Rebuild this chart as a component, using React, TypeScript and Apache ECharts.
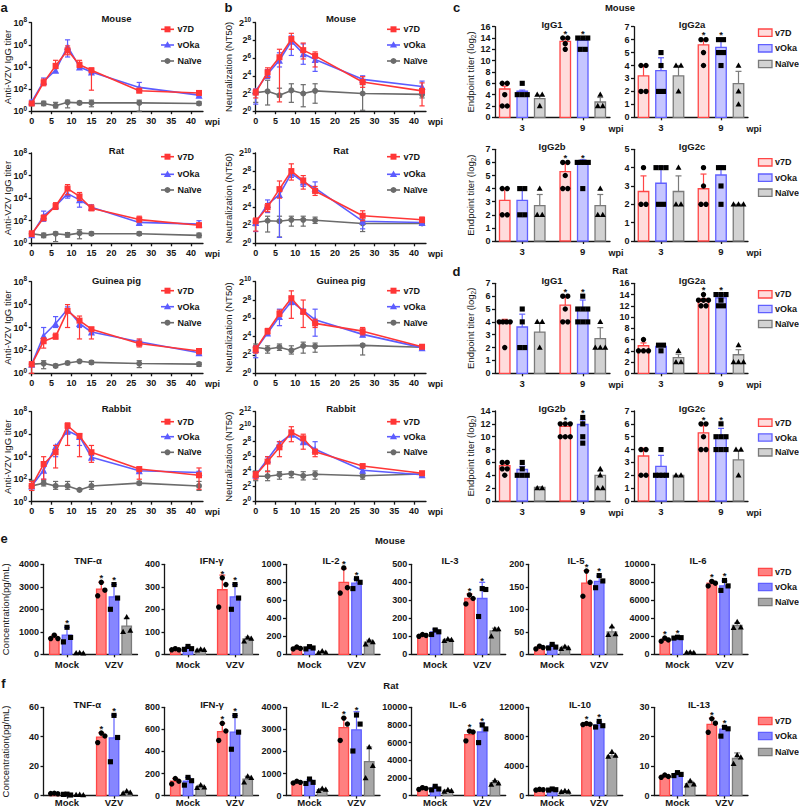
import React, { useEffect, useRef } from "react";
import * as echarts from "echarts";

const FONT = "'Liberation Sans', Arial, Helvetica, sans-serif";
const INK = "#151515";

// ---------------- categories / ticks ----------------
const weeks = [0, 3, 6, 9, 12, 15, 27, 42];
const weekTicks = [0, 5, 10, 15, 20, 25, 30, 35, 40];
const groupNames = ["v7D", "vOka", "Naïve"];
const wpiCats = ["3", "9"];
const stimCats = ["Mock", "VZV"];
const speciesNames = ["Mouse", "Rat", "Guinea pig", "Rabbit"];
const eTitles = ["TNF-α", "IFN-γ", "IL-2", "IL-3", "IL-5", "IL-6"];
const fTitles = ["TNF-α", "IFN-γ", "IL-2", "IL-6", "IL-10", "IL-13"];
const eYMax = [4000, 400, 1000, 500, 200, 10000];
const eYInt = [1000, 100, 200, 100, 50, 2000];
const fYMax = [60, 800, 4000, 10000, 12000, 30];
const fYInt = [20, 200, 1000, 2000, 4000, 10];

// ---------------- a: anti-VZV IgG titer, log10, [mean, low, high] per week ----------------
const aMouseV7D = [[0.7,0.55,0.85],[2.6,2.3,2.9],[4.1,3.85,4.6],[5.5,5.1,5.9],[4.2,3.95,4.6],[3.7,1.9,3.9],[1.85,1.7,2.05],[1.65,1.5,1.8]];
const aMouseVOka = [[0.85,0.7,1.0],[2.7,2.4,3.0],[3.7,3.5,3.9],[5.85,4.9,6.45],[4.0,3.9,4.1],[3.55,3.4,3.7],[2.15,1.8,2.6],[1.45,1.3,1.8]];
const aMouseNaive = [[0.7,0.5,0.9],[0.7,0.5,0.9],[0.5,0.3,0.8],[0.8,0.3,1.0],[0.75,0.6,0.9],[0.75,0.4,1.0],[0.75,0.0,1.0],[0.7,0.55,0.85]];
const aRatV7D = [[0.85,0.6,1.1],[2.25,2.0,2.5],[3.3,3.0,3.6],[4.85,4.3,5.2],[4.15,3.8,4.5],[3.1,2.9,3.4],[2.1,1.9,2.4],[1.6,1.4,1.8]];
const aRatVOka = [[0.75,0.55,0.9],[2.45,1.95,2.85],[3.3,3.2,3.45],[4.4,4.0,4.8],[3.85,3.2,4.3],[3.2,3.0,3.4],[1.85,1.7,2.0],[1.7,1.5,2.0]];
const aRatNaive = [[0.85,0.7,1.0],[0.7,0.5,0.9],[0.85,0.15,1.0],[0.75,0.55,0.95],[0.9,0.4,1.2],[0.85,0.7,1.0],[0.85,0.7,1.0],[0.7,0.5,0.9]];
const aGuineaV7D = [[0.78,0.0,1.0],[2.8,2.2,3.1],[3.2,3.0,3.5],[5.45,4.0,6.0],[4.6,3.0,5.0],[3.85,3.0,4.0],[2.6,2.3,3.0],[1.95,1.7,2.1]];
const aGuineaVOka = [[0.78,0.6,0.95],[3.3,2.9,4.0],[4.35,4.0,4.95],[5.6,5.3,5.8],[4.35,4.0,4.6],[3.6,3.4,3.8],[2.75,2.6,2.9],[1.8,1.6,1.9]];
const aGuineaNaive = [[0.8,0.6,0.95],[0.85,0.4,1.1],[0.65,0.5,0.8],[0.9,0.75,1.05],[1.05,0.95,1.15],[0.95,0.8,1.1],[0.85,0.5,1.1],[0.8,0.6,0.95]];
const aRabbitV7D = [[1.4,1.0,1.8],[3.35,2.0,4.0],[4.4,3.0,5.0],[6.75,5.0,7.0],[5.85,4.0,6.05],[4.4,3.5,5.0],[2.9,2.0,3.05],[2.35,1.1,3.0]];
const aRabbitVOka = [[1.4,1.2,1.6],[2.8,2.0,3.5],[4.9,4.0,5.0],[6.3,6.0,6.5],[5.8,5.0,6.0],[3.95,3.8,4.1],[2.75,2.6,2.9],[2.6,2.4,2.7]];
const aRabbitNaive = [[1.4,1.0,1.9],[1.65,1.4,1.9],[1.4,1.1,1.8],[1.4,1.1,1.8],[1.05,1.0,1.1],[1.4,1.1,1.8],[1.65,1.5,1.8],[1.4,1.0,1.8]];

// ---------------- b: neutralization NT50, log2, [mean, low, high] per week ----------------
const bMouseV7D = [[2.1,1.5,2.5],[4.4,3.8,4.9],[6.1,1.05,7.0],[8.15,7.0,8.8],[6.9,5.9,7.7],[6.25,5.0,6.7],[3.3,2.7,3.9],[2.3,0.6,3.2]];
const bMouseVOka = [[2.3,0.8,2.5],[4.2,3.7,4.7],[5.75,5.0,6.6],[7.9,6.3,8.5],[6.5,5.3,7.6],[5.85,4.5,6.4],[3.6,3.3,4.0],[2.8,2.0,3.4]];
const bMouseNaive = [[2.1,1.0,2.4],[2.25,0.7,3.5],[1.8,1.6,2.6],[2.35,1.0,3.1],[2.0,0.5,3.0],[2.3,0.9,3.1],[2.0,0.1,3.0],[1.9,1.5,2.4]];
const bRatV7D = [[2.45,1.35,2.8],[4.0,3.5,4.4],[6.0,5.0,6.9],[8.0,7.0,8.8],[6.95,6.0,7.5],[5.8,5.3,6.3],[3.05,2.5,3.6],[2.6,2.3,2.9]];
const bRatVOka = [[2.3,1.3,2.6],[4.3,3.4,4.8],[5.4,0.65,6.2],[7.75,7.3,8.1],[6.8,6.3,7.2],[6.1,5.6,6.8],[2.45,1.6,2.9],[2.3,2.0,2.5]];
const bRatNaive = [[2.3,2.0,2.6],[2.5,1.25,3.0],[2.45,0.7,3.0],[2.6,1.9,3.0],[2.6,1.9,3.0],[2.55,2.2,2.9],[2.2,1.3,2.6],[2.2,2.0,2.4]];
const bGuineaV7D = [[2.6,2.2,3.0],[4.6,4.3,4.9],[6.5,6.2,6.9],[8.2,6.0,9.0],[6.7,5.0,8.0],[5.45,5.0,5.9],[4.6,4.2,5.0],[2.9,2.7,3.1]];
const bGuineaVOka = [[2.6,1.7,3.0],[4.4,4.2,4.7],[6.2,5.2,7.0],[7.85,7.5,8.3],[6.85,6.7,7.0],[5.85,4.05,7.0],[4.25,4.0,4.5],[2.8,2.6,3.0]];
const bGuineaNaive = [[2.85,2.3,3.2],[2.65,2.2,3.0],[2.85,2.5,3.2],[2.5,2.1,3.0],[3.0,2.2,3.4],[2.95,2.3,3.3],[3.05,2.0,3.2],[2.85,2.6,3.0]];
const bRabbitV7D = [[3.55,3.0,4.0],[5.35,4.0,6.0],[7.25,6.0,8.0],[9.25,8.0,10.0],[8.45,7.0,9.0],[6.65,6.0,7.0],[4.75,4.5,5.0],[3.8,3.5,4.0]];
const bRabbitVOka = [[3.55,3.2,3.9],[5.65,5.2,6.0],[7.8,7.3,8.0],[9.0,8.7,9.3],[8.0,7.8,8.3],[7.0,6.5,8.0],[4.2,4.0,4.4],[3.6,3.4,3.8]];
const bRabbitNaive = [[3.4,2.8,4.1],[3.4,2.8,4.1],[3.6,3.0,4.0],[3.75,3.2,4.0],[3.45,2.9,4.0],[3.65,3.0,4.1],[3.45,3.0,3.7],[3.7,3.5,3.9]];

// ---------------- c: mouse IgG subclasses (rows: wk3, wk9; cols: v7D, vOka, Naïve) ----------------
const cIgG1Mean = [[5.0,4.6,3.3],[13.4,13.6,2.7]];
const cIgG1SD = [[0.5,0.2,0.6],[0.5,0.3,0.8]];
const cIgG1Pts = [[[6,6,4,2,2],[6,4,4,4],[4,4,2]],[[14,14,13,12],[14,14,14,12,12],[4,2,2]]];
const cIgG1Star = [[0,0,0],[1,1,0]];
const cIgG2aMean = [[3.2,3.6,3.2],[5.6,5.4,2.6]];
const cIgG2aSD = [[0.8,1.0,0.8],[0.4,0.5,0.95]];
const cIgG2aPts = [[[4,4,2,2],[5,4,2,2],[4,4,2]],[[6,6,5,4],[6,6,5,5,4],[4,2,1]]];
const cIgG2aStar = [[0,0,0],[1,1,0]];
const cIgG2bMean = [[3.1,3.1,2.7],[5.3,6.0,2.7]];
const cIgG2bSD = [[0.9,0.9,0.85],[0.6,0.2,0.85]];
const cIgG2bPts = [[[4,4,2,2],[4,4,2,2],[4,2,2]],[[6,6,5,4,4],[6,6,6,6,4],[4,2,2]]];
const cIgG2bStar = [[0,0,0],[1,1,0]];
const cIgG2cMean = [[2.7,3.15,2.7],[2.85,3.6,2.0]];
const cIgG2cSD = [[0.85,0.9,0.85],[0.8,0.5,0]];
const cIgG2cPts = [[[4,2,2],[4,4,4,2,2],[4,2,2]],[[4,3,2,2],[4,4,3,2],[2,2,2]]];
const cIgG2cStar = [[0,0,0],[0,0,0]];

// ---------------- d: rat IgG subclasses ----------------
const dIgG1Mean = [[4.0,3.6,3.2],[5.3,5.1,2.7]];
const dIgG1SD = [[0.2,1.0,0.75],[0.6,0.6,0.85]];
const dIgG1Pts = [[[4,4,4,4,2],[5,4,2,2],[4,4,2]],[[6,6,5,4,4],[6,5,5,5,4,4,4],[4,2,2,2]]];
const dIgG1Star = [[0,0,0],[1,1,0]];
const dIgG2aMean = [[4.9,4.8,2.8],[12.8,13.4,3.3]];
const dIgG2aSD = [[0.5,0.2,0.6],[0.5,0.6,0.9]];
const dIgG2aPts = [[[6,4,4,4],[5,5,4],[4,2,2]],[[14,13,13,13,12,12],[14,14,14,13,12,12],[5,2,2,2]]];
const dIgG2aStar = [[0,0,0],[1,1,0]];
const dIgG2bMean = [[5.5,4.9,2.1],[11.6,11.9,4.0]];
const dIgG2bSD = [[0.4,0.5,0.1],[0.4,0.7,0.6]];
const dIgG2bPts = [[[6,6,5,5,4],[6,5,4,4,4],[2,2]],[[12,12,12,10,10,10],[13,12,10,9],[5,4,2,2]]];
const dIgG2bStar = [[0,0,0],[1,1,0]];
const dIgG2cMean = [[3.5,2.7,2.0],[5.3,5.1,3.2]];
const dIgG2cSD = [[0.6,0.85,0],[0.55,0.55,0.75]];
const dIgG2cPts = [[[4,4,2,2],[4,2,2,2,2],[2,2]],[[6,6,5,4,4],[6,5,5,5,4,4,4],[4,4,2]]];
const dIgG2cStar = [[0,0,0],[1,1,0]];

// ---------------- e: mouse cytokines, pg/mL (rows: Mock, VZV) ----------------
const eTNFMean = [[750,850,50],[2900,2550,1250]];
const eTNFSD = [[100,350,20],[300,550,350]];
const eTNFPts = [[[850,700,700],[1200,750,550],[60,40,50]],[[3200,2850,2600],[3100,2500,2000],[1650,1050,1000]]];
const eTNFStar = [[0,1,0],[1,1,0]];
const eIFNMean = [[22,28,20],[287,255,68]];
const eIFNSD = [[4,6,3],[65,55,9]];
const eIFNPts = [[[25,20,20],[35,25,22],[22,20,18]],[[340,310,210],[310,250,200],[75,70,58]]];
const eIFNStar = [[0,0,0],[1,1,0]];
const eIL2Mean = [[70,72,25],[800,790,135]];
const eIL2SD = [[10,12,8],[150,45,22]];
const eIL2Pts = [[[80,65,60],[85,70,60],[35,20,15]],[[960,740,680],[840,800,730],[155,135,110]]];
const eIL2Star = [[0,0,0],[1,1,0]];
const eIL3Mean = [[105,125,80],[310,310,130]];
const eIL3SD = [[5,15,5],[25,90,15]];
const eIL3Pts = [[[110,105,100],[135,125,110],[85,80,75]],[[330,310,280],[365,360,210],[140,140,100]]];
const eIL3Star = [[0,0,0],[1,1,0]];
const eIL5Mean = [[15,18,15],[158,162,50]];
const eIL5SD = [[3,4,3],[28,12,10]];
const eIL5Pts = [[[18,15,12],[22,16,14],[17,14,12]],[[185,160,129],[175,163,148],[62,45,43]]];
const eIL5Star = [[0,0,0],[1,1,0]];
const eIL6Mean = [[1600,1850,200],[7900,7600,3200]];
const eIL6SD = [[150,60,60],[250,550,300]];
const eIL6Pts = [[[1800,1600,1450],[1900,1850,1800],[220,150,200]],[[8100,7900,7600],[8200,7600,7100],[3600,3000,2950]]];
const eIL6Star = [[1,1,0],[1,1,0]];

// ---------------- f: rat cytokines, pg/mL ----------------
const fTNFMean = [[1.5,1.0,0.5],[39.7,39.2,2.0]];
const fTNFSD = [[0.3,0.4,0.3],[3.0,15.5,1.0]];
const fTNFPts = [[[1.6,1.2,1.4],[1.0,0.4,0.8],[0.6,0.3,0.5]],[[42.5,40.5,36],[54.5,39.5,23],[3,2,1.5]]];
const fTNFStar = [[0,0,0],[1,1,0]];
const fIFNMean = [[130,130,80],[580,575,150]];
const fIFNSD = [[25,35,15],[75,150,25]];
const fIFNPts = [[[155,130,105],[165,135,95],[95,75,70]],[[655,585,500],[725,575,420],[175,160,120]]];
const fIFNStar = [[0,0,0],[1,1,0]];
const fIL2Mean = [[610,620,270],[3080,2980,1540]];
const fIL2SD = [[40,100,50],[430,820,660]];
const fIL2Pts = [[[650,600,570],[750,600,550],[320,270,220]],[[3510,3240,2500],[3650,3240,2020],[2200,1350,790]]];
const fIL2Star = [[0,0,0],[1,1,0]];
const fIL6Mean = [[800,850,550],[6900,7200,1450]];
const fIL6SD = [[100,200,100],[450,1000,250]];
const fIL6Pts = [[[900,800,700],[1050,750,650],[650,550,450]],[[7300,7200,6200],[8000,7550,6000],[1700,1400,1250]]];
const fIL6Star = [[0,0,0],[1,1,0]];
const fIL10Mean = [[800,800,580],[9700,9600,5400]];
const fIL10SD = [[50,80,70],[150,400,400]];
const fIL10Pts = [[[850,800,750],[900,800,750],[650,550,500]],[[9800,9700,9650],[10080,9500,9320],[5950,5450,5300]]];
const fIL10Star = [[0,0,0],[1,1,0]];
const fIL13Mean = [[6.6,7.2,4.1],[24.2,22.6,12.6]];
const fIL13SD = [[0.4,0.5,0.8],[2.1,1.0,1.9]];
const fIL13Pts = [[[7.0,6.5,6.2],[7.8,7.2,6.8],[5.0,3.8,3.5]],[[26.1,24.6,21.5],[23.2,22.7,20.2],[13.8,13.0,10.8]]];
const fIL13Star = [[0,0,0],[1,1,0]];

// ---------------- styles ----------------
const LINE_COLORS = ["#FF3636", "#5C5CFF", "#6B6B6B"];
const LINE_SYMBOLS = ["rect", "triangle", "circle"];
const LINE_SYMSIZE = [6, 7, 6];
const BAR_STROKE = ["#FF4646", "#6060FF", "#7A7A7A"];
const BAR_FILL_LIGHT = ["#FFDCDC", "#C6C6FF", "#D2D2D2"];
const BAR_FILL_SOLID = ["#FF8080", "#8686FF", "#A7A7A7"];

function buildOption() {
  const grid: any[] = [];
  const xAxis: any[] = [];
  const yAxis: any[] = [];
  const series: any[] = [];
  const elements: any[] = [];

  const axisLine = { show: true, onZero: false, lineStyle: { color: INK, width: 1.3 } };
  const tickCfg = (len: number) => ({ show: true, inside: false, length: len, lineStyle: { color: INK, width: 1.3 } });
  const lbl = (size: number) => ({ fontFamily: FONT, fontSize: size, fontWeight: "bold", color: INK });

  const text = (t: string, x: number, y: number, size: number, weight = "bold", align = "center") => ({
    type: "text", x, y, silent: true, z: 20,
    style: { text: t, fontFamily: FONT, fontSize: size, fontWeight: weight, fill: INK, textAlign: align, textVerticalAlign: "middle", align, verticalAlign: "middle" },
  });

  const addGrid = (left: number, top: number, width: number, height: number) => {
    grid.push({ left, top, width, height, containLabel: false, outerBoundsMode: "none", show: false });
    return grid.length - 1;
  };

  const lineErrRender = (color: string) => (params: any, api: any) => {
    const x = api.value(0);
    const lo = api.coord([x, api.value(1)]);
    const hi = api.coord([x, api.value(2)]);
    const st = { stroke: color, lineWidth: 1.2 };
    const cap = 2.6;
    return {
      type: "group",
      children: [
        { type: "line", shape: { x1: lo[0], y1: lo[1], x2: hi[0], y2: hi[1] }, style: st },
        { type: "line", shape: { x1: lo[0] - cap, y1: lo[1], x2: lo[0] + cap, y2: lo[1] }, style: st },
        { type: "line", shape: { x1: hi[0] - cap, y1: hi[1], x2: hi[0] + cap, y2: hi[1] }, style: st },
      ],
    };
  };

  const lineMarker = (k: number, cx: number, cy: number) => {
    const fill = LINE_COLORS[k];
    if (k === 0) return { type: "rect", silent: true, z: 21, shape: { x: cx - 3, y: cy - 3, width: 6, height: 6 }, style: { fill } };
    if (k === 1) return { type: "polygon", silent: true, z: 21, shape: { points: [[cx, cy - 3.8], [cx + 3.6, cy + 2.6], [cx - 3.6, cy + 2.6]] }, style: { fill } };
    return { type: "circle", silent: true, z: 21, shape: { cx, cy, r: 3 }, style: { fill } };
  };

  const addLinePanel = (cfg: any) => {
    const gi = addGrid(cfg.left, cfg.top, cfg.width, cfg.height);
    xAxis.push({
      gridIndex: gi, type: "value", min: 0, max: 43, interval: 5,
      axisLine, axisTick: { ...tickCfg(3), customValues: weekTicks },
      axisLabel: { ...lbl(9), margin: 5, customValues: weekTicks, formatter: (v: number) => String(v) },
      splitLine: { show: false },
    });
    yAxis.push({
      gridIndex: gi, type: "value", min: 0, max: cfg.yMax, interval: 2,
      axisLine, axisTick: tickCfg(3), splitLine: { show: false },
      axisLabel: {
        margin: 4.5,
        formatter: (v: number) => `{b|${cfg.base}}{s|${v}}`,
        rich: {
          b: { ...lbl(9), lineHeight: 13 },
          s: { ...lbl(6.5), verticalAlign: "top", lineHeight: 6 },
        },
      },
      name: cfg.yName, nameLocation: "middle", nameGap: cfg.nameGap, nameRotate: 90, nameMoveOverlap: false,
      nameTextStyle: { fontFamily: FONT, fontSize: 9.5, color: INK },
    });
    cfg.data.forEach((arr: number[][], k: number) => {
      const z = 5 - k;
      series.push({
        type: "custom", xAxisIndex: gi, yAxisIndex: gi, z, silent: true,
        renderItem: lineErrRender(LINE_COLORS[k]),
        data: arr.map((d, i) => [weeks[i], d[1], d[2]]),
      });
      series.push({
        type: "line", name: groupNames[k], xAxisIndex: gi, yAxisIndex: gi, z, silent: true, clip: false,
        symbol: LINE_SYMBOLS[k], symbolSize: LINE_SYMSIZE[k], showSymbol: true, showAllSymbol: true,
        lineStyle: { color: LINE_COLORS[k], width: 1.6 }, itemStyle: { color: LINE_COLORS[k] },
        data: arr.map((d, i) => [weeks[i], d[0]]),
      });
    });
    elements.push(text(cfg.title, cfg.titleX, cfg.titleY, 9.5));
    elements.push(text("wpi", cfg.left + cfg.width + 9.5, cfg.top + cfg.height + 10.7, 9));
    cfg.legY.forEach((y: number, k: number) => {
      elements.push({ type: "line", silent: true, z: 20, shape: { x1: cfg.legX, y1: y, x2: cfg.legX + 13, y2: y }, style: { stroke: LINE_COLORS[k], lineWidth: 1.6 } });
      elements.push(lineMarker(k, cfg.legX + 6.5, y));
      elements.push(text(groupNames[k], cfg.legX + 16.5, y, 9, "bold", "left"));
    });
  };

  const barRectRender = (spacing: number, bw: number, fills: string[]) => (params: any, api: any) => {
    const c = api.value(0), m = api.value(1), k = api.value(2);
    const b = api.coord([c, 0]);
    const t = api.coord([c, m]);
    const cx = b[0] + (k - 1) * spacing;
    return {
      type: "rect",
      shape: { x: cx - bw / 2, y: t[1], width: bw, height: b[1] - t[1] },
      style: { fill: fills[k], stroke: BAR_STROKE[k], lineWidth: 1.3 },
    };
  };

  const barErrRender = (spacing: number, symSize: number) => (params: any, api: any) => {
    const c = api.value(0), m = api.value(1), top = api.value(2), k = api.value(3), star = api.value(4), ptMax = api.value(5);
    const base = api.coord([c, m]);
    const tp = api.coord([c, top]);
    const pp = api.coord([c, ptMax]);
    const x = base[0] + (k - 1) * spacing;
    const st = { stroke: BAR_STROKE[k], lineWidth: 1.2 };
    const children: any[] = [];
    if (top > m) {
      children.push({ type: "line", shape: { x1: x, y1: base[1], x2: x, y2: tp[1] }, style: st });
      children.push({ type: "line", shape: { x1: x - 3, y1: tp[1], x2: x + 3, y2: tp[1] }, style: st });
    }
    if (star) {
      const yTop = Math.min(tp[1], pp[1] - symSize / 2);
      children.push({
        type: "text", x, y: yTop - 2,
        style: { text: "*", fontFamily: FONT, fontSize: 9.5, fontWeight: "bold", fill: INK, textAlign: "center", textVerticalAlign: "middle", align: "center", verticalAlign: "middle" },
      });
    }
    return { type: "group", children };
  };

  const pointRender = (spacing: number, size: number) => (params: any, api: any) => {
    const c = api.value(0), v = api.value(1), k = api.value(2), dx = api.value(3);
    const p = api.coord([c, v]);
    const x = p[0] + (k - 1) * spacing + dx;
    const y = p[1];
    const r = size / 2;
    const style = { fill: "#000" };
    if (k === 0) return { type: "circle", shape: { cx: x, cy: y, r }, style };
    if (k === 1) return { type: "rect", shape: { x: x - r * 0.95, y: y - r * 0.95, width: r * 1.9, height: r * 1.9 }, style };
    return { type: "polygon", shape: { points: [[x, y - r * 1.15], [x + r * 1.1, y + r * 0.8], [x - r * 1.1, y + r * 0.8]] }, style };
  };

  const addBarPanel = (cfg: any) => {
    const gi = addGrid(cfg.left, cfg.top, cfg.width, cfg.height);
    xAxis.push({
      gridIndex: gi, type: "value", min: cfg.xMin, max: cfg.xMax,
      axisLine, axisTick: { ...tickCfg(3), customValues: [0, 1] },
      axisLabel: { ...lbl(9.5), margin: cfg.xMargin ?? 5, customValues: [0, 1], formatter: (v: number) => cfg.cats[Math.round(v)] },
      splitLine: { show: false },
    });
    yAxis.push({
      gridIndex: gi, type: "value", min: 0, max: cfg.yMax, interval: cfg.yInt,
      axisLine, axisTick: tickCfg(3), splitLine: { show: false },
      axisLabel: { ...lbl(9), margin: 4.5, formatter: (v: number) => String(v) },
      name: cfg.yName || "", nameLocation: "middle", nameGap: cfg.nameGap || 0, nameRotate: 90, nameMoveOverlap: false,
      nameTextStyle: {
        fontFamily: FONT, fontSize: 9.5, color: INK, lineHeight: 12,
        rich: { sub: { fontFamily: FONT, fontSize: 6.5, color: INK, verticalAlign: "bottom", lineHeight: 5 } },
      },
    });
    const fills = cfg.solid ? BAR_FILL_SOLID : BAR_FILL_LIGHT;
    const rects: any[] = [], errs: any[] = [], dots: any[] = [];
    for (let c = 0; c < 2; c++) {
      for (let k = 0; k < 3; k++) {
        const m = cfg.means[c][k];
        const pts: number[] = cfg.pts[c][k];
        rects.push([c, m, k]);
        errs.push([c, m, m + cfg.sd[c][k], k, cfg.stars[c][k], Math.max(m, ...pts)]);
        if (cfg.solid) {
          const pattern = [0, 3.6, -3.6];
          pts.forEach((v, i) => dots.push([c, v, k, pattern[i % 3]]));
        } else {
          const seen: Record<string, number> = {};
          const counts: Record<string, number> = {};
          pts.forEach((v) => { counts[v] = (counts[v] || 0) + 1; });
          pts.forEach((v) => {
            const n = counts[v];
            const i = seen[v] || 0;
            seen[v] = i + 1;
            const step = n > 1 ? Math.min(5, 11 / (n - 1)) : 0;
            dots.push([c, v, k, (i - (n - 1) / 2) * step]);
          });
        }
      }
    }
    series.push({ type: "custom", xAxisIndex: gi, yAxisIndex: gi, z: 2, silent: true, renderItem: barRectRender(cfg.spacing, cfg.bw, fills), data: rects });
    series.push({ type: "custom", xAxisIndex: gi, yAxisIndex: gi, z: 3, silent: true, renderItem: barErrRender(cfg.spacing, cfg.symSize), data: errs });
    series.push({ type: "custom", xAxisIndex: gi, yAxisIndex: gi, z: 4, silent: true, renderItem: pointRender(cfg.spacing, cfg.symSize), data: dots });
    elements.push(text(cfg.title, cfg.titleX, cfg.titleY, 9.5));
    if (cfg.wpi) elements.push(text("wpi", cfg.left + cfg.width + 6, cfg.top + cfg.height + 11.5, 9));
  };

  const barLegend = (ys: number[], solid: boolean) => {
    ys.forEach((y, k) => {
      elements.push({
        type: "rect", silent: true, z: 20,
        shape: { x: 758.5, y: y - 3.7, width: 13.5, height: 7.4 },
        style: { fill: (solid ? BAR_FILL_SOLID : BAR_FILL_LIGHT)[k], stroke: BAR_STROKE[k], lineWidth: 1.3 },
      });
      elements.push(text(groupNames[k], 775, y, 9, "bold", "left"));
    });
  };

  // ---------- panels a & b ----------
  const rowTop = [22.7, 153, 281.7, 411.7];
  const rowH = [88.5, 90.3, 91.6, 90];
  const titleY = [18.3, 150, 280, 408.3];
  const legY = [[29.3, 45, 61], [156.7, 174.3, 190], [290.7, 306.7, 322.7], [421.7, 436.7, 452.3]];
  const aData = [
    [aMouseV7D, aMouseVOka, aMouseNaive],
    [aRatV7D, aRatVOka, aRatNaive],
    [aGuineaV7D, aGuineaVOka, aGuineaNaive],
    [aRabbitV7D, aRabbitVOka, aRabbitNaive],
  ];
  const bData = [
    [bMouseV7D, bMouseVOka, bMouseNaive],
    [bRatV7D, bRatVOka, bRatNaive],
    [bGuineaV7D, bGuineaVOka, bGuineaNaive],
    [bRabbitV7D, bRabbitVOka, bRabbitNaive],
  ];
  for (let r = 0; r < 4; r++) {
    addLinePanel({
      left: 31.7, top: rowTop[r], width: 171.3, height: rowH[r], yMax: 8, base: "10",
      yName: "Anti-VZV IgG titer", nameGap: 19.5, data: aData[r], title: speciesNames[r],
      titleX: 116.5, titleY: titleY[r], legX: 161, legY: legY[r],
    });
    addLinePanel({
      left: 255.7, top: rowTop[r], width: 170.3, height: rowH[r], yMax: r === 3 ? 12 : 10, base: "2",
      yName: "Neutralization (NT50)", nameGap: 22, data: bData[r], title: speciesNames[r],
      titleX: 341, titleY: titleY[r], legX: 387, legY: legY[r],
    });
  }

  // ---------- panels c & d ----------
  const cdCommon = { width: 115, xMin: -0.45, xMax: 1.45, cats: wpiCats, solid: false, bw: 10.5, spacing: 17.5, symSize: 5.4, wpi: true };
  const cdPanels = [
    { left: 495, top: 26.7, height: 90.6, yMax: 16, yInt: 2, means: cIgG1Mean, sd: cIgG1SD, pts: cIgG1Pts, stars: cIgG1Star, title: "IgG1", titleY: 24, left0: true },
    { left: 634, top: 26.7, height: 90.6, yMax: 7, yInt: 1, means: cIgG2aMean, sd: cIgG2aSD, pts: cIgG2aPts, stars: cIgG2aStar, title: "IgG2a", titleY: 24 },
    { left: 495, top: 149.3, height: 91.7, yMax: 7, yInt: 1, means: cIgG2bMean, sd: cIgG2bSD, pts: cIgG2bPts, stars: cIgG2bStar, title: "IgG2b", titleY: 146, left0: true },
    { left: 634, top: 149.3, height: 91.7, yMax: 5, yInt: 1, means: cIgG2cMean, sd: cIgG2cSD, pts: cIgG2cPts, stars: cIgG2cStar, title: "IgG2c", titleY: 146 },
    { left: 495, top: 283.3, height: 90, yMax: 7, yInt: 1, means: dIgG1Mean, sd: dIgG1SD, pts: dIgG1Pts, stars: dIgG1Star, title: "IgG1", titleY: 280, left0: true },
    { left: 634, top: 283.3, height: 90, yMax: 16, yInt: 2, means: dIgG2aMean, sd: dIgG2aSD, pts: dIgG2aPts, stars: dIgG2aStar, title: "IgG2a", titleY: 280 },
    { left: 495, top: 411, height: 90, yMax: 14, yInt: 2, means: dIgG2bMean, sd: dIgG2bSD, pts: dIgG2bPts, stars: dIgG2bStar, title: "IgG2b", titleY: 408.3, left0: true },
    { left: 634, top: 411, height: 90, yMax: 7, yInt: 1, means: dIgG2cMean, sd: dIgG2cSD, pts: dIgG2cPts, stars: dIgG2cStar, title: "IgG2c", titleY: 408.3 },
  ];
  cdPanels.forEach((p: any) => {
    addBarPanel({
      ...cdCommon, ...p,
      width: p.left0 ? 115 : 114,
      titleX: p.left0 ? 552 : 692,
      yName: p.left0 ? "Endpoint titer (log{sub|2})" : "",
      nameGap: 18.5,
    });
  });
  barLegend([32.7, 48.3, 64], false);
  barLegend([162.3, 177.7, 192.7], false);
  barLegend([294.3, 309, 324], false);
  barLegend([422.7, 437.5, 452.3], false);

  // ---------- panels e & f ----------
  const efLeft = [43.5, 164.5, 286, 411.7, 528.7, 654];
  const eTitleX = [88, 211.7, 331, 450, 576, 698];
  const fTitleX = [87.3, 212, 330, 458, 580, 699];
  const eSets = [
    [eTNFMean, eTNFSD, eTNFPts, eTNFStar],
    [eIFNMean, eIFNSD, eIFNPts, eIFNStar],
    [eIL2Mean, eIL2SD, eIL2Pts, eIL2Star],
    [eIL3Mean, eIL3SD, eIL3Pts, eIL3Star],
    [eIL5Mean, eIL5SD, eIL5Pts, eIL5Star],
    [eIL6Mean, eIL6SD, eIL6Pts, eIL6Star],
  ];
  const fSets = [
    [fTNFMean, fTNFSD, fTNFPts, fTNFStar],
    [fIFNMean, fIFNSD, fIFNPts, fIFNStar],
    [fIL2Mean, fIL2SD, fIL2Pts, fIL2Star],
    [fIL6Mean, fIL6SD, fIL6Pts, fIL6Star],
    [fIL10Mean, fIL10SD, fIL10Pts, fIL10Star],
    [fIL13Mean, fIL13SD, fIL13Pts, fIL13Star],
  ];
  const efCommon = { width: 94, xMin: -0.5, xMax: 1.5, cats: stimCats, solid: true, bw: 9.5, spacing: 12.7, symSize: 5.4, wpi: false };
  for (let i = 0; i < 6; i++) {
    addBarPanel({
      ...efCommon, left: efLeft[i], top: 564.3, height: 90, yMax: eYMax[i], yInt: eYInt[i],
      means: eSets[i][0], sd: eSets[i][1], pts: eSets[i][2], stars: eSets[i][3],
      title: eTitles[i], titleX: eTitleX[i], titleY: 560.7,
      yName: i === 0 ? "Concentration(pg/mL)" : "", nameGap: 32,
    });
    addBarPanel({
      ...efCommon, left: efLeft[i], top: 707.3, height: 88.3, yMax: fYMax[i], yInt: fYInt[i],
      means: fSets[i][0], sd: fSets[i][1], pts: fSets[i][2], stars: fSets[i][3],
      title: fTitles[i], titleX: fTitleX[i], titleY: 704.5, xMargin: 2,
      yName: i === 0 ? "Concentration(pg/mL)" : "", nameGap: 32,
    });
  }
  barLegend([572, 587, 602], true);
  barLegend([721, 736, 752], true);

  // ---------- panel letters & group headers ----------
  elements.push(text("a", 4, 7.5, 13));
  elements.push(text("b", 228.5, 7.5, 13));
  elements.push(text("c", 456.5, 7.5, 13));
  elements.push(text("d", 456.5, 271, 13));
  elements.push(text("e", 4, 538.5, 13));
  elements.push(text("f", 3.5, 683, 13));
  elements.push(text("Mouse", 620, 7, 9.5));
  elements.push(text("Rat", 620, 270.5, 9.5));
  elements.push(text("Mouse", 390, 540.5, 9.5));
  elements.push(text("Rat", 391, 685, 9.5));

  return {
    animation: false,
    backgroundColor: "#ffffff",
    textStyle: { fontFamily: FONT },
    grid,
    xAxis,
    yAxis,
    series,
    graphic: { elements },
  };
}

export default function App() {
  const ref = useRef<HTMLDivElement>(null);
  useEffect(() => {
    if (!ref.current) return;
    const chart = echarts.init(ref.current, null, { renderer: "svg" });
    chart.setOption(buildOption() as any);
    return () => chart.dispose();
  }, []);
  return (
    <div
      ref={ref}
      style={{ position: "absolute", left: 0, top: 0, width: 799, height: 810, background: "#fff" }}
    />
  );
}
